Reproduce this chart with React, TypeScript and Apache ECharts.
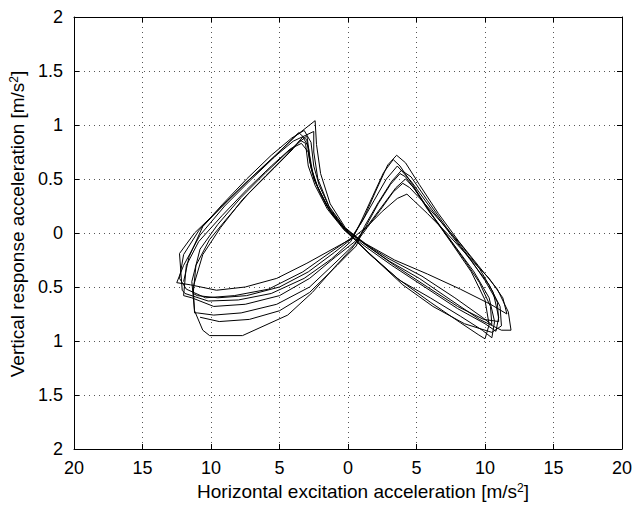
import React, { useEffect, useRef } from "react";
import * as echarts from "echarts";

const xTicks = { min: -20, max: 20, interval: 5 };
const yTicks = { min: -2, max: 2, interval: 0.5 };
const xTitle = "Horizontal excitation acceleration [m/s{sup|2}]";
const yTitle = "Vertical response acceleration [m/s{sup|2}]";

const cycle1: number[][] = [
  [-12.0, -0.45], [-11.6, -0.22], [-10.6, 0.06], [-8.8, 0.3], [-7.0, 0.52], [-5.3, 0.72], [-3.8, 0.9], [-2.4, 1.04],
  [-2.3, 0.82], [-2.0, 0.55], [-1.3, 0.27], [-0.2, 0.05], [1.2, -0.1], [3.0, -0.26], [5.2, -0.42], [7.5, -0.62], [9.6, -0.8], [11.2, -0.9], [11.9, -0.9],
  [11.7, -0.73], [10.9, -0.52], [9.5, -0.3], [8.1, -0.08], [6.6, 0.18], [5.2, 0.45], [4.2, 0.65], [3.55, 0.72],
  [2.9, 0.63], [2.0, 0.38], [1.2, 0.15], [0.3, -0.05], [-1.0, -0.14], [-3.0, -0.28], [-5.2, -0.42], [-7.5, -0.5], [-9.6, -0.53], [-11.5, -0.48],
];
const cycle2: number[][] = [
  [-12.5, -0.46], [-12.0, -0.3], [-10.8, -0.02], [-9.0, 0.25], [-7.2, 0.48], [-5.4, 0.7], [-3.6, 0.93],
  [-3.0, 0.86], [-2.8, 0.66], [-2.3, 0.45], [-1.4, 0.22], [-0.2, 0.02], [1.4, -0.17], [3.6, -0.42], [6.0, -0.64], [8.2, -0.83], [9.5, -0.94], [10.0, -0.98],
  [10.3, -0.85], [10.0, -0.62], [9.0, -0.36], [7.6, -0.1], [6.1, 0.17], [4.7, 0.45], [3.8, 0.62], [3.3, 0.68],
  [2.6, 0.56], [1.8, 0.34], [1.0, 0.12], [0.2, -0.08], [-1.2, -0.24], [-3.2, -0.42], [-5.6, -0.56], [-8.0, -0.62], [-10.2, -0.63], [-11.9, -0.56],
];
const cycle3: number[][] = [
  [-12.1, -0.53], [-12.3, -0.19], [-11.2, 0.0], [-9.4, 0.22], [-7.5, 0.46], [-5.6, 0.68], [-4.0, 0.85], [-2.5, 0.94],
  [-2.5, 0.75], [-2.2, 0.5], [-1.4, 0.25], [-0.2, 0.04], [1.3, -0.1], [3.4, -0.25], [5.8, -0.38], [8.2, -0.52], [10.4, -0.66], [11.6, -0.75],
  [11.3, -0.6], [10.3, -0.42], [8.8, -0.22], [7.2, 0.0], [5.8, 0.18], [4.8, 0.3], [4.3, 0.36],
  [3.6, 0.32], [2.5, 0.2], [1.4, 0.06], [0.4, -0.04], [-1.0, -0.18], [-2.9, -0.36], [-5.0, -0.5], [-7.4, -0.58], [-9.5, -0.6], [-11.0, -0.58],
];
const cycle4: number[][] = [
  [-11.3, -0.56], [-11.1, -0.3], [-10.1, -0.06], [-8.8, 0.14], [-7.3, 0.36], [-5.4, 0.6], [-4.0, 0.78], [-3.3, 0.89],
  [-2.9, 0.8], [-2.7, 0.6], [-2.2, 0.42], [-1.3, 0.2], [0.0, 0.0], [1.6, -0.2], [3.8, -0.44], [6.0, -0.6], [8.2, -0.77], [9.8, -0.9], [10.5, -0.97],
  [10.7, -0.82], [10.3, -0.6], [9.2, -0.36], [7.8, -0.12], [6.3, 0.14], [5.0, 0.38], [4.2, 0.52], [3.8, 0.55],
  [3.1, 0.45], [2.2, 0.27], [1.3, 0.06], [0.5, -0.1], [-0.8, -0.26], [-2.8, -0.5], [-5.2, -0.66], [-7.8, -0.74], [-9.8, -0.76], [-11.0, -0.74],
];
const cycle5: number[][] = [
  [-11.2, -0.74], [-11.3, -0.5], [-10.6, -0.2], [-9.3, 0.05], [-7.7, 0.31], [-6.0, 0.53], [-4.5, 0.72], [-3.5, 0.86],
  [-3.1, 0.83], [-2.9, 0.62], [-2.4, 0.44], [-1.5, 0.22], [-0.3, 0.03], [1.2, -0.12], [3.2, -0.3], [5.6, -0.5], [8.0, -0.7], [10.0, -0.84], [10.8, -0.91],
  [11.0, -0.78], [10.6, -0.55], [9.6, -0.33], [8.2, -0.1], [6.8, 0.1], [5.4, 0.3], [4.5, 0.42], [4.0, 0.46],
  [3.3, 0.38], [2.4, 0.22], [1.4, 0.05], [0.3, -0.14], [-1.0, -0.32], [-2.6, -0.55], [-4.4, -0.76], [-7.7, -0.95], [-10.1, -0.95], [-10.6, -0.9],
];
const cycle6: number[][] = [
  [-11.2, -0.72], [-11.4, -0.45], [-10.8, -0.15], [-9.5, 0.08], [-7.8, 0.33], [-6.0, 0.56], [-4.5, 0.74], [-3.0, 0.9],
  [-2.8, 0.72], [-2.5, 0.5], [-1.6, 0.26], [-0.4, 0.06], [1.0, -0.08], [3.0, -0.24], [5.4, -0.4], [7.8, -0.6], [9.8, -0.78], [10.5, -0.85],
  [10.4, -0.68], [9.6, -0.46], [8.5, -0.25], [7.2, -0.02], [5.8, 0.22], [4.8, 0.42], [4.2, 0.5],
  [3.5, 0.42], [2.5, 0.25], [1.5, 0.08], [0.5, -0.08], [-0.9, -0.22], [-2.8, -0.42], [-5.0, -0.58], [-7.5, -0.66], [-9.8, -0.68], [-11.4, -0.6],
];
const cycle7: number[][] = [
  [-12.0, -0.58], [-11.8, -0.3], [-10.9, -0.08], [-9.2, 0.16], [-7.4, 0.4], [-5.6, 0.62], [-4.2, 0.78], [-3.4, 0.83],
  [-2.9, 0.75], [-2.6, 0.55], [-2.0, 0.36], [-1.1, 0.16], [0.2, -0.02], [1.8, -0.22], [4.0, -0.48], [6.2, -0.68], [8.5, -0.84], [10.5, -0.92], [11.2, -0.86],
  [11.1, -0.68], [10.3, -0.48], [9.0, -0.26], [7.6, -0.03], [6.1, 0.22], [4.6, 0.48], [3.6, 0.62],
  [2.8, 0.5], [1.9, 0.3], [1.0, 0.1], [0.2, -0.05], [-1.3, -0.18], [-3.3, -0.36], [-5.8, -0.52], [-8.3, -0.58], [-10.4, -0.6], [-11.8, -0.52],
];
const cycle8: number[][] = [
  [-12.3, -0.42], [-12.0, -0.2], [-10.9, 0.02], [-9.2, 0.26], [-7.4, 0.5], [-5.6, 0.72], [-4.1, 0.88], [-3.2, 0.95],
  [-2.7, 0.84], [-2.5, 0.62], [-2.1, 0.44], [-1.3, 0.22], [-0.1, 0.02], [1.4, -0.12], [3.4, -0.3], [5.8, -0.5], [8.0, -0.68], [9.9, -0.8], [11.0, -0.82],
  [10.9, -0.64], [10.0, -0.44], [8.7, -0.2], [7.2, 0.05], [5.8, 0.3], [4.6, 0.52], [3.9, 0.58],
  [3.2, 0.48], [2.2, 0.28], [1.2, 0.06], [0.6, -0.12], [-0.8, -0.3], [-2.8, -0.55], [-5.0, -0.72], [-7.2, -0.8], [-9.4, -0.82], [-10.8, -0.78],
];

const cycles = [cycle1, cycle2, cycle3, cycle4, cycle5, cycle6, cycle7, cycle8];

const FONT = "'Liberation Sans', Arial, Helvetica, sans-serif";
const fmt = (v: number) => String(Math.abs(v));

export default function App() {
  const ref = useRef<HTMLDivElement>(null);
  useEffect(() => {
    const chart = echarts.init(ref.current!, null, { renderer: "svg" });
    const trajectory = cycles.reduce((acc: number[][], c) => acc.concat(c), []);
    const axisLine = { show: true, onZero: false, lineStyle: { color: "#000", width: 1 } };
    const axisTick = { show: true, inside: true, length: 5, lineStyle: { color: "#000", width: 1 } };
    const gridLine = { show: true, lineStyle: { color: "#555", width: 1, type: [1, 4] } };
    const richSup = { sup: { fontSize: 12, fontFamily: FONT, color: "#000", verticalAlign: "top" } };
    chart.setOption({
      animation: false,
      backgroundColor: "#fff",
      grid: { left: 74, right: 16, top: 17, bottom: 59, containLabel: false },
      xAxis: [
        {
          type: "value",
          ...xTicks,
          position: "bottom",
          axisLine,
          axisTick,
          splitLine: gridLine,
          axisLabel: { formatter: fmt, color: "#000", fontSize: 18, fontFamily: FONT, margin: 10 },
          name: xTitle,
          nameLocation: "middle",
          nameGap: 32,
          nameTextStyle: { fontSize: 19, color: "#000", fontFamily: FONT, padding: [0, 0, 0, 30], rich: richSup },
        },
        {
          type: "value",
          ...xTicks,
          position: "top",
          axisLine,
          axisTick,
          splitLine: { show: false },
          axisLabel: { show: false },
        },
      ],
      yAxis: [
        {
          type: "value",
          ...yTicks,
          position: "left",
          axisLine,
          axisTick,
          splitLine: gridLine,
          axisLabel: { formatter: fmt, color: "#000", fontSize: 18, fontFamily: FONT, margin: 11 },
          name: yTitle,
          nameLocation: "middle",
          nameRotate: 90,
          nameGap: 44,
          nameTextStyle: { fontSize: 19, color: "#000", fontFamily: FONT, padding: [0, 0, 0, 18], rich: richSup },
        },
        {
          type: "value",
          ...yTicks,
          position: "right",
          axisLine,
          axisTick,
          splitLine: { show: false },
          axisLabel: { show: false },
        },
      ],
      series: [
        {
          type: "line",
          xAxisIndex: 0,
          yAxisIndex: 0,
          data: trajectory,
          symbol: "none",
          showSymbol: false,
          silent: true,
          lineStyle: { color: "#000", width: 1 },
        },
      ],
    });
    return () => chart.dispose();
  }, []);
  return (
    <div
      ref={ref}
      style={{ position: "absolute", left: 0, top: 0, width: 638, height: 508, background: "#fff" }}
    />
  );
}
